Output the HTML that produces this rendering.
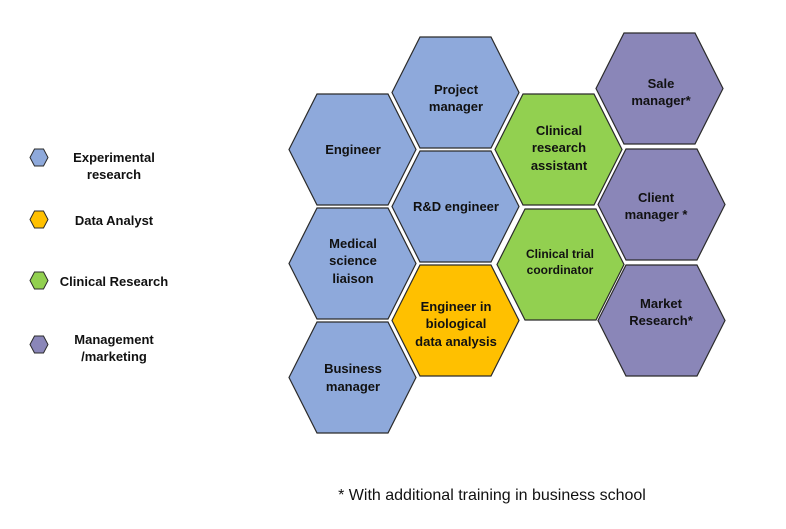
<!DOCTYPE html>
<html><head><style>body{margin:0;background:#fff}svg{display:block}text{font-family:"Liberation Sans",sans-serif;font-weight:bold;font-size:13px;fill:#111;text-anchor:middle}</style></head>
<body>
<svg width="786" height="529" viewBox="0 0 786 529">
<defs>
<polygon id="h" points="0,55.5 28,0 99,0 127,55.5 99,111 28,111" stroke="#2b2b2b" stroke-width="1.2"/>
<polygon id="s" points="0,8.5 4.5,0 13.5,0 18,8.5 13.5,17 4.5,17" stroke="#2b2b2b" stroke-width="1"/>
</defs>
<g fill="#8EA9DB">
<use href="#h" x="289" y="94"/><use href="#h" x="392" y="37"/><use href="#h" x="392" y="151"/>
<use href="#h" x="289" y="208"/><use href="#h" x="289" y="322"/>
</g>
<use href="#h" x="392" y="265" fill="#FFC000"/>
<g fill="#92D050"><use href="#h" x="495" y="94"/><use href="#h" x="497" y="209"/></g>
<g fill="#8A86B8"><use href="#h" x="596" y="33"/><use href="#h" x="598" y="149"/><use href="#h" x="598" y="265"/></g>
<use href="#s" x="30" y="149" fill="#8EA9DB"/>
<use href="#s" x="30" y="211" fill="#FFC000"/>
<use href="#s" x="30" y="272" fill="#92D050"/>
<use href="#s" x="30" y="336" fill="#8A86B8"/>
<text x="353" y="154">Engineer</text>
<text x="456" y="94">Project</text><text x="456" y="111">manager</text>
<text x="456" y="211">R&amp;D engineer</text>
<text x="353" y="248">Medical</text><text x="353" y="265">science</text><text x="353" y="283">liaison</text>
<text x="353" y="373">Business</text><text x="353" y="391">manager</text>
<text x="456" y="311">Engineer in</text><text x="456" y="328">biological</text><text x="456" y="346">data analysis</text>
<text x="559" y="135">Clinical</text><text x="559" y="152">research</text><text x="559" y="170">assistant</text>
<text x="560" y="258" style="font-size:12px">Clinical trial</text><text x="560" y="274" style="font-size:12px">coordinator</text>
<text x="661" y="88">Sale</text><text x="661" y="105">manager*</text>
<text x="656" y="202">Client</text><text x="656" y="219">manager *</text>
<text x="661" y="308">Market</text><text x="661" y="325">Research*</text>
<text x="114" y="162">Experimental</text><text x="114" y="179">research</text>
<text x="114" y="225">Data Analyst</text>
<text x="114" y="286">Clinical Research</text>
<text x="114" y="344">Management</text><text x="114" y="361">/marketing</text>
<text x="492" y="500" style="font-weight:normal;font-size:16px">* With additional training in business school</text>
</svg>
</body></html>
